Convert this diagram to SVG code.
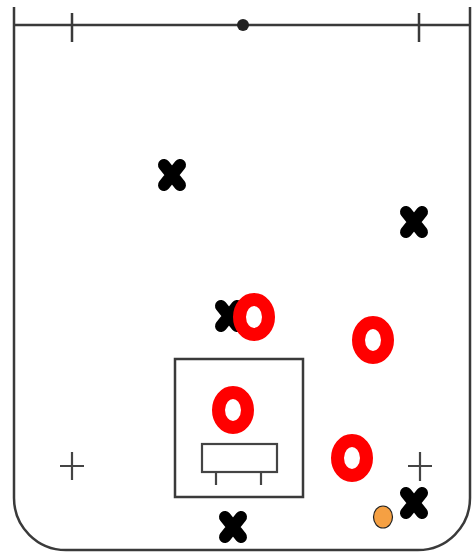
<svg xmlns="http://www.w3.org/2000/svg" width="475" height="557" viewBox="0 0 475 557">
<defs>
<style>
.line{fill:none;stroke:#3a3a3a;stroke-width:2.5}
.thin{fill:none;stroke:#444;stroke-width:2.2}
.ring{fill:none;stroke:#ff0000;stroke-width:13}
.xm{stroke:#000;stroke-width:12;stroke-linecap:round;fill:none}
</style>
<g id="xmark"><path class="xm" d="M-8,-10 L8,10 M8,-10 L-8,10"/></g>
</defs>
<rect width="475" height="557" fill="#fff"/>
<g id="rink">
<path class="line" d="M14,7 V498 A52,52 0 0 0 66,550 H418 A52,52 0 0 0 470,498 V7"/>
<line class="line" x1="14" y1="25" x2="470" y2="25"/>
<line class="line" x1="72" y1="13" x2="72" y2="42"/>
<line class="line" x1="419" y1="13" x2="419" y2="42"/>
<circle cx="243" cy="25" r="6" fill="#222"/>
<path class="thin" d="M60,466 H84 M72,452 V480"/>
<path class="thin" d="M408,466 H432 M420,452 V481"/>
</g>
<g id="goal-area">
<rect class="line" x="175" y="359" width="128" height="138"/>
<rect class="thin" x="202" y="444" width="75" height="28"/>
<path class="thin" d="M216,472 V485 M261,472 V485"/>
</g>
<g id="defenders">
<use href="#xmark" x="172" y="175"/>
<use href="#xmark" x="414" y="222"/>
<use href="#xmark" x="229" y="316"/>
<use href="#xmark" x="233" y="527"/>
<use href="#xmark" x="414" y="503"/>
</g>
<g id="attackers">
<ellipse class="ring" cx="254" cy="317" rx="14.5" ry="17.5"/>
<ellipse class="ring" cx="373" cy="340" rx="14.5" ry="17.5"/>
<ellipse class="ring" cx="233" cy="410" rx="14.5" ry="17.5"/>
<ellipse class="ring" cx="352" cy="458" rx="14.5" ry="17.5"/>
</g>
<g id="ball">
<ellipse cx="383" cy="517" rx="9.5" ry="11" fill="#f5a043" stroke="#222" stroke-width="1.2"/>
</g>
</svg>
